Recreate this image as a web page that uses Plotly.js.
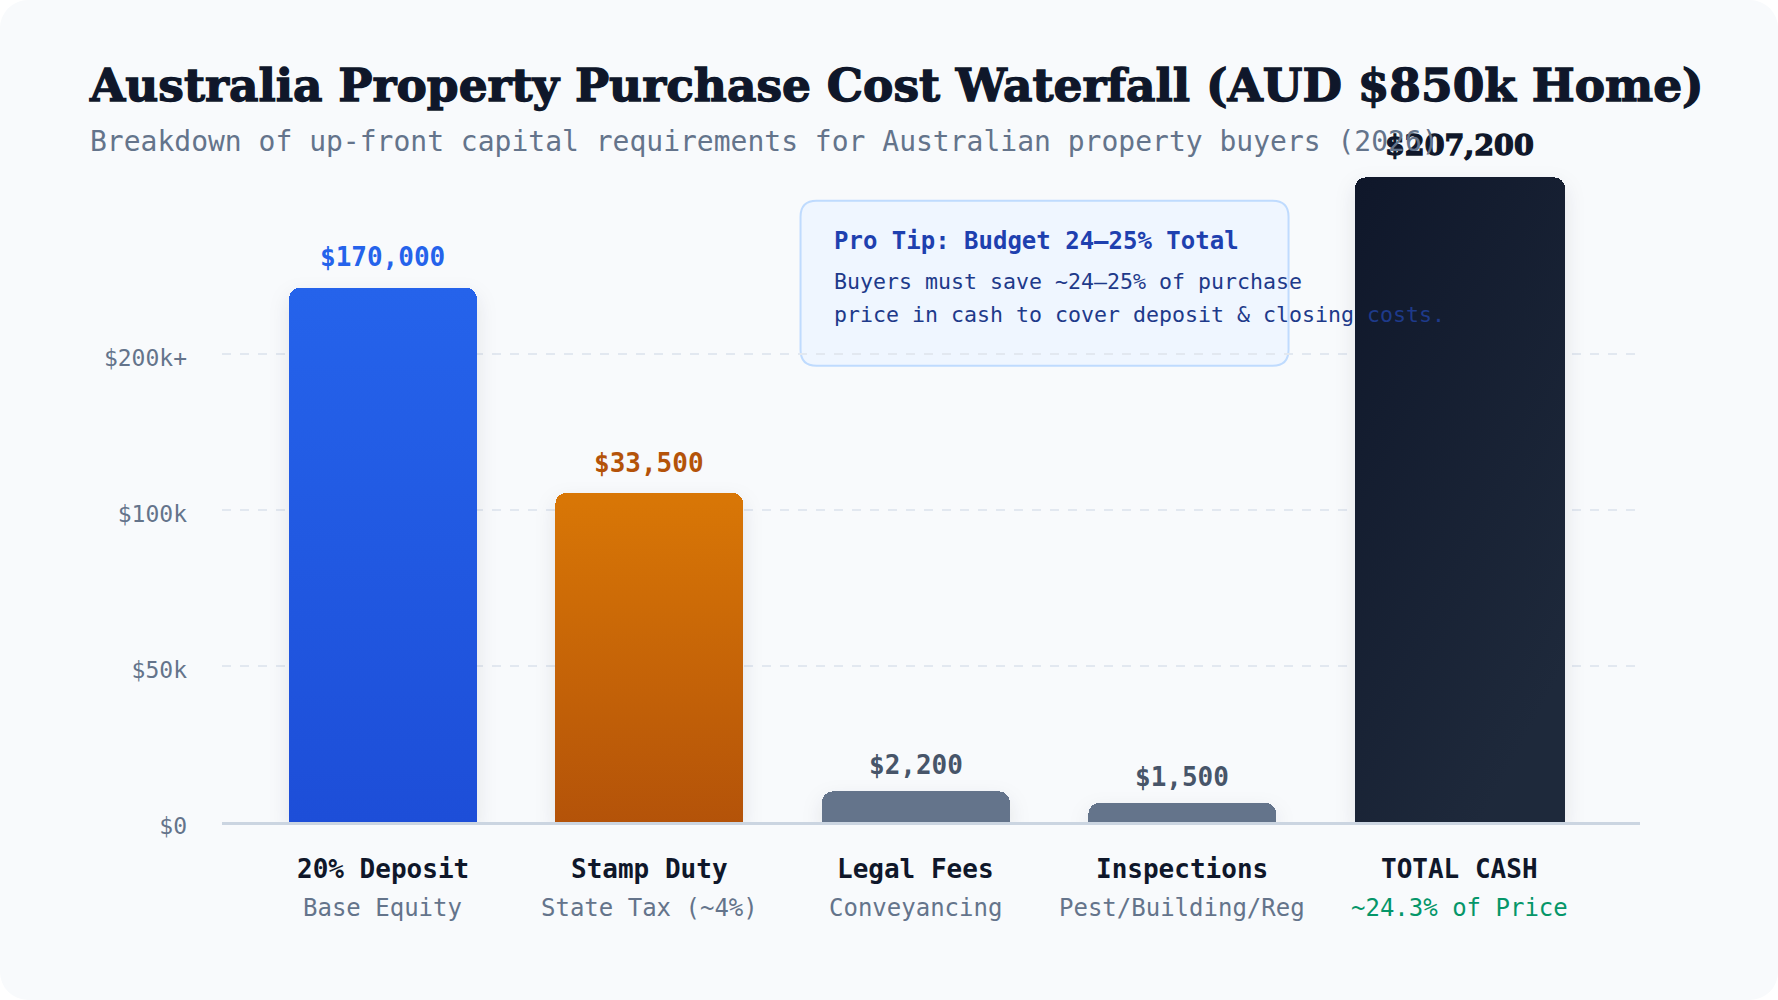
<!DOCTYPE html>
<html>
<head>
<meta charset="utf-8">
<script src="https://cdn.plot.ly/plotly-3.0.1.min.js"></script>
<style>
    html, body { margin: 0; padding: 0; background: #ffffff; }
    #card {
        width: 1778px;
        height: 1000px;
        background: #f8fafc;
        border-radius: 28px;
        overflow: hidden;
    }
</style>
</head>
<body>
<div id="card"><div id="plotly-chart"></div></div>
<script>
const categories = ['20% Deposit', 'Stamp Duty', 'Legal Fees', 'Inspections', 'TOTAL CASH'];
const subLabels = ['Base Equity', 'State Tax (~4%)', 'Conveyancing', 'Pest/Building/Reg', '~24.3% of Price'];
// amounts printed above each bar
const amounts = [170000, 33500, 2200, 1500, 207200];
// heights the bars are drawn at (fees are visually boosted)
const barHeights = [171200, 105500, 9800, 6100, 206600];
const yTickVals = [0, 50000, 100000, 150000];
const yTickText = ['$0', '$50k', '$100k', '$200k+'];

const barColors = ['#2159e2', '#c6660a', '#64748b', '#64748b', '#161e2e'];
// gradient stops per bar: [start, end, direction]
const barGradients = [
    ['#2563eb', '#1d4ed8', 'v'],
    ['#d97706', '#b45309', 'v'],
    ['#64748b', '#64748b', 'v'],
    ['#64748b', '#64748b', 'v'],
    ['#0f172a', '#1e293b', 'd'],
];
const valueColors = ['#2563eb', '#b45309', '#475569', '#475569', '#0f172a'];
const subColors = ['#64748b', '#64748b', '#64748b', '#64748b', '#059669'];
const labelGaps = [30.5, 29.5, 26, 26, 32];

const MONO = '"DejaVu Sans Mono", monospace';
const SLAB = '"DejaVu Serif", serif';

function applyBarGradients(gd) {
    const svgNS = 'http://www.w3.org/2000/svg';
    const svg = gd.querySelector('svg.main-svg');
    let defs = svg.querySelector('defs');
    if (!defs) {
        defs = document.createElementNS(svgNS, 'defs');
        svg.insertBefore(defs, svg.firstChild);
    }
    barGradients.forEach((g, i) => {
        const lg = document.createElementNS(svgNS, 'linearGradient');
        lg.setAttribute('id', 'bar-grad-' + i);
        lg.setAttribute('x1', '0');
        lg.setAttribute('y1', '0');
        lg.setAttribute('x2', g[2] === 'd' ? '0.6' : '0');
        lg.setAttribute('y2', '1');
        [[0, g[0]], [1, g[1]]].forEach(([off, col]) => {
            const stop = document.createElementNS(svgNS, 'stop');
            stop.setAttribute('offset', off);
            stop.setAttribute('stop-color', col);
            lg.appendChild(stop);
        });
        defs.appendChild(lg);
    });

    const paths = gd.querySelectorAll('.barlayer .point path');
    paths.forEach((p, i) => {
        p.style.fill = 'url(#bar-grad-' + i + ')';
        p.style.filter = 'drop-shadow(0px 8px 10px rgba(15, 23, 42, 0.10))';
    });

    // the original uses a much heavier slab face; thicken DejaVu Serif a little
    gd.querySelectorAll('.gtitle, .slab-label').forEach(t => {
        t.style.stroke = '#0f172a';
        t.style.strokeWidth = '1.3px';
    });
}

async function drawChart() {
    const xPos = categories.map((c, i) => i);
    const widths = categories.map((c, i) => i === categories.length - 1 ? 0.788 : 0.705);
    const offset = -0.3527;
    const centers = xPos.map((x, i) => x + offset + widths[i] / 2);

    const bars = {
        x: xPos,
        y: barHeights,
        type: 'bar',
        width: widths,
        offset: offset,
        marker: { color: barColors, cornerradius: 11, line: { width: 0 } },
        hoverinfo: 'skip',
    };

    const annotations = [];

    // value labels above the bars
    amounts.forEach((v, i) => {
        const isTotal = i === amounts.length - 1;
        annotations.push({
            x: centers[i], y: barHeights[i], xref: 'x', yref: 'y',
            text: '$' + v.toLocaleString('en-US'),
            showarrow: false, yanchor: 'middle', yshift: labelGaps[i],
            font: isTotal
                ? { family: SLAB, size: 28.5, color: valueColors[i], weight: 900 }
                : { family: MONO, size: 26, color: valueColors[i], weight: 700 },
        });
    });

    // category labels under the axis
    categories.forEach((c, i) => {
        annotations.push({
            x: centers[i], y: 0, xref: 'x', yref: 'y',
            text: '<b>' + c + '</b>', showarrow: false,
            yanchor: 'middle', yshift: -47,
            font: { family: MONO, size: 26, color: '#0f172a' },
        });
        annotations.push({
            x: centers[i], y: 0, xref: 'x', yref: 'y',
            text: subLabels[i], showarrow: false,
            yanchor: 'middle', yshift: -86,
            font: { family: MONO, size: 24, color: subColors[i] },
        });
    });

    // subtitle
    annotations.push({
        x: -0.0947, y: 1.0272, xref: 'paper', yref: 'paper',
        xanchor: 'left', yanchor: 'middle', showarrow: false,
        text: 'Breakdown of up-front capital requirements for Australian property buyers (2026)',
        font: { family: MONO, size: 28, color: '#64748b' },
    });

    // pro tip text
    const tipX = 0.4302;
    annotations.push({
        x: tipX, y: 0.8775, xref: 'paper', yref: 'paper',
        xanchor: 'left', yanchor: 'middle', showarrow: false,
        text: '<b>Pro Tip: Budget 24–25% Total</b>',
        font: { family: MONO, size: 24, color: '#1e40af' },
    });
    annotations.push({
        x: tipX, y: 0.8165, xref: 'paper', yref: 'paper',
        xanchor: 'left', yanchor: 'middle', showarrow: false,
        text: 'Buyers must save ~24–25% of purchase',
        font: { family: MONO, size: 21.6, color: '#1e3a8a' },
    });
    annotations.push({
        x: tipX, y: 0.7667, xref: 'paper', yref: 'paper',
        xanchor: 'left', yanchor: 'middle', showarrow: false,
        text: 'price in cash to cover deposit & closing costs.',
        font: { family: MONO, size: 21.6, color: '#1e3a8a' },
    });

    // rounded box behind the tip, sized in pixels
    const w = 488, h = 165, r = 16;
    const tipBox = {
        type: 'path', layer: 'below',
        xref: 'paper', yref: 'paper',
        xsizemode: 'pixel', ysizemode: 'pixel',
        xanchor: 0.408, yanchor: 0.9385,
        path: `M ${r},0 L ${w - r},0 Q ${w},0 ${w},${-r} L ${w},${-h + r} Q ${w},${-h} ${w - r},${-h}` +
              ` L ${r},${-h} Q 0,${-h} 0,${-h + r} L 0,${-r} Q 0,0 ${r},0 Z`,
        fillcolor: '#eff6ff',
        line: { color: '#bfdbfe', width: 2 },
    };

    const layout = {
        width: 1778,
        height: 1000,
        paper_bgcolor: 'rgba(0,0,0,0)',
        plot_bgcolor: 'rgba(0,0,0,0)',
        margin: { t: 160, r: 138, b: 178, l: 222 },
        showlegend: false,
        bargap: 0,
        title: {
            text: 'Australia Property Purchase Cost Waterfall (AUD $850k Home)',
            xref: 'container', yref: 'container',
            x: 0.0506, xanchor: 'left',
            y: 0.915, yanchor: 'middle',
            font: { family: SLAB, size: 45.5, color: '#0f172a', weight: 900 },
        },
        xaxis: {
            range: [-0.604, 4.717],
            showgrid: false,
            zeroline: false,
            showticklabels: false,
            ticks: '',
            showline: true,
            linecolor: '#cbd5e1',
            linewidth: 3,
            fixedrange: true,
        },
        yaxis: {
            range: [0, 662 / 156 * 50000],
            tickvals: yTickVals,
            ticktext: yTickText,
            ticks: '',
            ticklabelstandoff: 34,
            ticklabelshift: 4,
            tickfont: { family: MONO, size: 23, color: '#64748b' },
            showgrid: true,
            gridcolor: '#e2e8f0',
            gridwidth: 2,
            griddash: 'dash',
            zeroline: false,
            showline: false,
            fixedrange: true,
        },
        shapes: [tipBox],
        annotations: annotations,
    };

    const config = { staticPlot: true, displayModeBar: false, responsive: false };

    const gd = await Plotly.newPlot('plotly-chart', [bars], layout, config);
    // mark the total label so it gets the same heavier look as the title
    const annTexts = gd.querySelectorAll('.annotation-text');
    if (annTexts[amounts.length - 1]) {
        annTexts[amounts.length - 1].classList.add('slab-label');
    }
    applyBarGradients(gd);
}

drawChart();
</script>
</body>
</html>
